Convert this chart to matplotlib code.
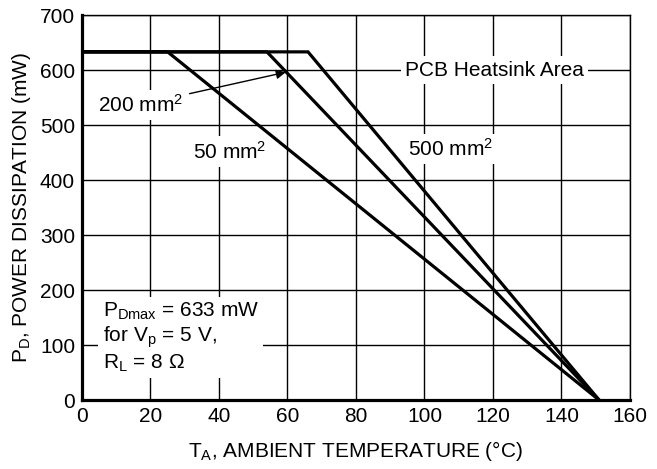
import matplotlib
matplotlib.use("Agg")
import matplotlib.pyplot as plt

plt.rcParams['font.family'] = ['Liberation Sans', 'DejaVu Sans']
plt.rcParams['mathtext.fontset'] = 'custom'
plt.rcParams['mathtext.rm'] = 'Liberation Sans'
plt.rcParams['mathtext.it'] = 'Liberation Sans'

# derating curves: flat at PDmax until the knee, then down to zero
pd_max = 633
t_zero = 151
areas = ["50 mm$^2$", "200 mm$^2$", "500 mm$^2$"]
knee_temps = [25, 54, 66]

x_ticks = [0, 20, 40, 60, 80, 100, 120, 140, 160]
y_ticks = [0, 100, 200, 300, 400, 500, 600, 700]

fs = 15

fig = plt.figure(figsize=(6.57, 4.69), dpi=100)
ax = fig.add_axes([0.1248, 0.147, 0.834, 0.821])

for knee in knee_temps:
    ax.plot([0, knee, t_zero], [pd_max, pd_max, 0], color='black', lw=2.3,
            solid_joinstyle='miter', zorder=4)

ax.set_xlim(0, 160)
ax.set_ylim(0, 700)
ax.set_xticks(x_ticks)
ax.set_yticks(y_ticks)
ax.grid(True, color='black', lw=1.0, zorder=1)
ax.set_axisbelow(True)
ax.tick_params(length=0, labelsize=fs, pad=5)

for s in ['top', 'right']:
    ax.spines[s].set_linewidth(1.0)
for s in ['left', 'bottom']:
    ax.spines[s].set_linewidth(2.3)

ax.set_xlabel("T$_\\mathregular{A}$, AMBIENT TEMPERATURE (°C)", fontsize=fs, labelpad=9)
ax.set_ylabel("P$_\\mathregular{D}$, POWER DISSIPATION (mW)", fontsize=fs, labelpad=5)

box = dict(facecolor='white', edgecolor='none', pad=3)
ax.text(120.5, 600, "PCB Heatsink Area", fontsize=fs, ha='center', va='center',
        bbox=box, zorder=3)
ax.text(107.5, 456, areas[2], fontsize=fs, ha='center', va='center', bbox=box, zorder=3)
ax.text(43, 452, areas[0], fontsize=fs, ha='center', va='center', bbox=box, zorder=3)
ax.annotate(areas[1], xy=(59.5, 596), xytext=(17, 537), fontsize=fs,
            ha='center', va='center', bbox=box, zorder=5,
            arrowprops=dict(arrowstyle='-|>', color='black', lw=1.0,
                            mutation_scale=14, shrinkA=2, shrinkB=0))
ax.text(6, 180,
        "P$_\\mathregular{Dmax}$ = 633 mW\nfor V$_\\mathregular{p}$ = 5 V,\nR$_\\mathregular{L}$ = 8 Ω",
        fontsize=fs, ha='left', va='top', linespacing=1.15, bbox=box, zorder=3)

fig.savefig("out.png", dpi=100)
